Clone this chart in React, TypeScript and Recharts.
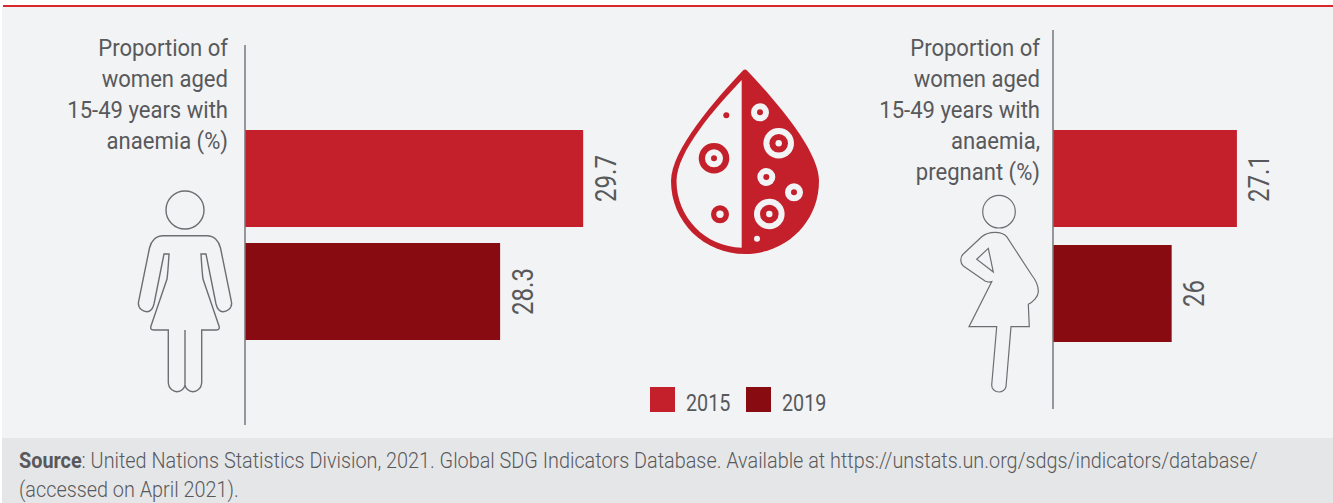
import React from 'react';
import { BarChart, Bar, Cell, XAxis, YAxis, LabelList } from 'recharts';

const YEARS = ['2015', '2019'];
const YEAR_COLORS = ['#c4202b', '#870b10'];
const WOMEN_VALUES = [29.7, 28.3];
const PREGNANT_VALUES = [27.1, 26];
const WOMEN_LABEL = ['Proportion of', 'women aged', '15-49 years with', 'anaemia (%)'];
const PREGNANT_LABEL = ['Proportion of', 'women aged', '15-49 years with', 'anaemia,', 'pregnant (%)'];

const FONT = 'Roboto, sans-serif';
const TEXT = '#58595b';

// the original font is condensed, so the text is squeezed a bit in x
const ValueLabel = ({ x, y, width, height, value }: any) => {
  const px = x + width + 32.5;
  const py = y + height / 2;
  return (
    <text
      transform={`translate(${px} ${py}) rotate(-90) scale(0.8 1)`}
      textAnchor="middle"
      fontFamily={FONT}
      fontWeight={400}
      fontSize={30}
      fill={TEXT}
    >
      {value}
    </text>
  );
};

interface PanelProps {
  left: number;
  top: number;
  height: number;
  max: number;
  values: number[];
  padTop: number;
  padBottom: number;
}

// bars start at 24, not zero, same as the original
const Panel = ({ left, top, height, max, values, padTop, padBottom }: PanelProps) => {
  const data = YEARS.map((year, i) => ({ year, value: values[i] }));
  return (
    <div style={{ position: 'absolute', left: left - 6, top }}>
      <BarChart
        width={6 + (max - 24) * 59.33 + 40}
        height={height}
        data={data}
        layout="vertical"
        margin={{ top: 0, right: 40, bottom: 0, left: 0 }}
        barCategoryGap={0}
      >
        <XAxis type="number" domain={[24, max]} hide allowDataOverflow />
        <YAxis
          type="category"
          dataKey="year"
          width={6}
          tick={false}
          tickLine={false}
          axisLine={{ stroke: '#77787b', strokeWidth: 1.5 }}
          padding={{ top: padTop, bottom: padBottom }}
        />
        <Bar dataKey="value" barSize={97} isAnimationActive={false}>
          {data.map((d, i) => (
            <Cell key={d.year} fill={YEAR_COLORS[i]} />
          ))}
          <LabelList dataKey="value" content={ValueLabel} />
        </Bar>
      </BarChart>
    </div>
  );
};

const SideLabel = ({ right, lines }: { right: number; lines: string[] }) => (
  <div
    style={{
      position: 'absolute',
      left: right - 220,
      top: 32,
      width: 220,
      textAlign: 'right',
      fontFamily: FONT,
      fontWeight: 400,
      fontSize: 24.5,
      lineHeight: '31px',
      color: TEXT,
      whiteSpace: 'nowrap',
      transform: 'scaleX(0.9)',
      transformOrigin: 'right top',
    }}
  >
    {lines.map((l) => (
      <div key={l}>{l}</div>
    ))}
  </div>
);

const Icons = () => (
  <svg width={1333} height={503} style={{ position: 'absolute', left: 0, top: 0 }}>
    {/* woman */}
    <g fill="none" stroke="#6d6e71" strokeWidth={1.4}>
      <circle cx={185} cy={210} r={19} />
      <path d="M163 235.7 H207 C214 235.7 219 241 220.5 248 L231.5 302 C232.5 309 226 311.7 223 311.7 C219 311.7 217 308 216 304 L206 254 H201 C201.5 262 202 272 203 279 L219 326 C219.7 328.5 219 330 216.5 330 H201.7 V382 C201.7 389 196 391.7 193 391.7 C188.5 391.7 185.5 388 185 385 C184.5 388 181.5 391.7 177 391.7 C174 391.7 168.3 389 168.3 382 V330 H153.5 C151 330 150.3 328.5 151 326 L167 279 C168 272 168.5 262 169 254 H164 L154 304 C153 308 151 311.7 147 311.7 C144 311.7 137.5 309 138.5 302 L149.5 248 C151 241 156 235.7 163 235.7 Z M185 330 V385" />
    </g>
    {/* pregnant woman */}
    <g fill="none" stroke="#6d6e71" strokeWidth={1.2}>
      <circle cx={999} cy={211.7} r={16.3} />
      <path d="M995 232.3 C1000 232.3 1004 233.5 1006.7 236.7 L1031.7 275 C1038 283 1038.5 288 1038.3 292 C1038 297 1033 302 1028.3 304.3 L1029.3 326.7 H1011 L1006 386.7 C1005.5 390 1002 392 999 392 C995 392 991.5 389 991.7 385 L996.7 326.7 H969 L991.7 281.7 C989 282.5 987 282 985 281 L963.3 266 C960.5 264 959.5 257 963.3 254 L981.7 236.7 C986 233 990 232.3 995 232.3 Z" />
      <path d="M976.7 259.3 L988.3 248.3 L993.3 272 Z" />
    </g>
    {/* blood drop */}
    <path
      d="M743 70.5 Q745 68.5 747 70.5 C775 100 819 150 819 181 C819 222 786 254 745 254 C704 254 671 222 671 181 C671 150 715 100 743 70.5 Z"
      fill="#c4202b"
    />
    <path d="M741.7 80 C715 108 676.5 152 676.5 181 C676.5 217 705 247 741.7 247.7 Z" fill="#f2f3f5" />
    <g fill="#c4202b">
      <circle cx={726.3} cy={115.3} r={3} />
      <circle cx={714} cy={158.3} r={15.3} />
      <circle cx={720} cy={214.3} r={9} />
    </g>
    <g fill="#f2f3f5">
      <circle cx={714} cy={158.3} r={9} />
      <circle cx={720} cy={214.3} r={3.7} />
      <circle cx={760} cy={112.3} r={9} />
      <circle cx={778.7} cy={143.3} r={15.3} />
      <circle cx={766.3} cy={177} r={9} />
      <circle cx={794} cy={192.3} r={9} />
      <circle cx={769.3} cy={214} r={15.3} />
      <circle cx={757} cy={238.7} r={3} />
    </g>
    <g fill="#c4202b">
      <circle cx={714} cy={158.3} r={3} />
      <circle cx={760} cy={112.3} r={3} />
      <circle cx={778.7} cy={143.3} r={9.3} />
      <circle cx={766.3} cy={177} r={3} />
      <circle cx={794} cy={192.3} r={3} />
      <circle cx={769.3} cy={214} r={9.3} />
    </g>
    <g fill="#f2f3f5">
      <circle cx={778.7} cy={143.3} r={3.2} />
      <circle cx={769.3} cy={214} r={3.2} />
    </g>
  </svg>
);

const LEGEND_X = [650, 746];

export default function App() {
  return (
    <div style={{ position: 'absolute', left: 0, top: 0, width: 1333, height: 503, background: '#fff', overflow: 'hidden' }}>
      <div style={{ position: 'absolute', left: 2, top: 7, width: 1331, height: 431, background: '#f2f3f5' }} />
      <div style={{ position: 'absolute', left: 3, top: 5, width: 1330, height: 2, background: '#d9272e' }} />
      <div style={{ position: 'absolute', left: 2, top: 438, width: 1331, height: 65, background: '#e5e6e8' }} />
      <div
        style={{
          position: 'absolute',
          left: 19,
          top: 446,
          fontFamily: FONT,
          fontWeight: 300,
          fontSize: 21.5,
          lineHeight: '29px',
          color: TEXT,
          whiteSpace: 'nowrap',
          transform: 'scaleX(0.922)',
          transformOrigin: 'left top',
        }}
      >
        <div>
          <b style={{ fontWeight: 700 }}>Source</b>: United Nations Statistics Division, 2021. Global SDG Indicators Database. Available at https://unstats.un.org/sdgs/indicators/database/
        </div>
        <div>(accessed on April 2021).</div>
      </div>

      <Icons />
      <SideLabel right={228} lines={WOMEN_LABEL} />
      <SideLabel right={1040} lines={PREGNANT_LABEL} />
      <Panel left={245} top={45} height={380} max={30} values={WOMEN_VALUES} padTop={77} padBottom={77} />
      <Panel left={1053} top={30} height={379} max={28} values={PREGNANT_VALUES} padTop={91} padBottom={58} />

      {YEARS.map((year, i) => (
        <React.Fragment key={year}>
          <div style={{ position: 'absolute', left: LEGEND_X[i], top: 387, width: 25, height: 25, background: YEAR_COLORS[i] }} />
          <div
            style={{
              position: 'absolute',
              left: LEGEND_X[i] + 36,
              top: 390,
              fontFamily: FONT,
              fontWeight: 400,
              fontSize: 23.5,
              lineHeight: '27px',
              color: TEXT,
              transform: 'scaleX(0.84)',
              transformOrigin: 'left top',
            }}
          >
            {year}
          </div>
        </React.Fragment>
      ))}
    </div>
  );
}
